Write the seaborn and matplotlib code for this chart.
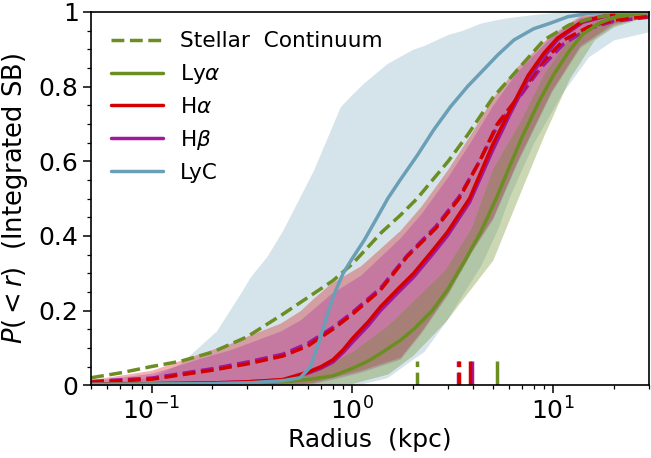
import matplotlib
matplotlib.use("Agg")
import matplotlib.pyplot as plt
import seaborn as sns
from matplotlib.ticker import FuncFormatter, MultipleLocator

sns.set_style("ticks")
plt.rcParams["font.family"] = ["DejaVu Sans"]
plt.rcParams["mathtext.fontset"] = "dejavusans"
for k in ["text.color", "axes.labelcolor", "xtick.color", "ytick.color", "axes.edgecolor"]:
    plt.rcParams[k] = "black"

GREEN = "#6b8e23"
RED = "#d40000"
PURPLE = "#a0189e"
BLUE = "#6a9fb5"

# --- curves (radius in kpc, cumulative fraction)
r_sc = [0.05, 0.07, 0.1, 0.139, 0.2, 0.3, 0.45, 0.6, 0.8, 1.0, 1.4, 1.73, 2.1,
        3.0, 3.74, 5.0, 6.64, 9.0, 12, 16, 22, 30]
p_sc = [0.02, 0.033, 0.05, 0.064, 0.088, 0.13, 0.19, 0.235, 0.28, 0.325, 0.41,
        0.455, 0.50, 0.60, 0.67, 0.77, 0.845, 0.925, 0.965, 0.985, 0.995, 1.0]

r_lya = [0.05, 0.1, 0.2, 0.3, 0.45, 0.6, 0.8, 1.0, 1.2, 1.38, 1.73, 2.02, 2.5,
         2.97, 3.6, 4.35, 5.2, 6.0, 7.0, 8.5, 10, 12, 14, 17, 20, 30]
p_lya = [0.002, 0.003, 0.004, 0.006, 0.009, 0.015, 0.025, 0.045, 0.065, 0.085,
         0.12, 0.15, 0.20, 0.255, 0.33, 0.41, 0.50, 0.58, 0.665, 0.76, 0.83,
         0.895, 0.94, 0.97, 0.985, 1.0]

r_h = [0.05, 0.1, 0.2, 0.3, 0.45, 0.6, 0.7, 0.8, 0.9, 1.0, 1.2, 1.38, 1.7, 2.02,
       2.5, 2.97, 3.83, 5.0, 6.14, 7.5, 9.0, 10.5, 14, 20, 30]
p_ha = [0.003, 0.004, 0.006, 0.009, 0.015, 0.035, 0.05, 0.068, 0.095, 0.125,
        0.17, 0.21, 0.26, 0.30, 0.36, 0.41, 0.50, 0.645, 0.74, 0.83, 0.89,
        0.93, 0.975, 0.995, 1.0]
p_hb = [0.003, 0.004, 0.006, 0.009, 0.014, 0.032, 0.046, 0.062, 0.088, 0.115,
        0.16, 0.20, 0.25, 0.29, 0.35, 0.40, 0.49, 0.63, 0.73, 0.82, 0.88,
        0.925, 0.972, 0.994, 1.0]

r_hd = [0.05, 0.1, 0.2, 0.3, 0.45, 0.6, 0.8, 1.0, 1.38, 1.87, 2.6, 3.4, 4.3,
        5.27, 6.64, 8.67, 11.3, 15, 20, 30]
p_ha_d = [0.008, 0.016, 0.04, 0.057, 0.078, 0.105, 0.15, 0.19, 0.255, 0.344,
          0.42, 0.50, 0.60, 0.70, 0.77, 0.86, 0.925, 0.96, 0.978, 0.988]
p_hb_d = [0.01, 0.019, 0.044, 0.062, 0.083, 0.112, 0.155, 0.195, 0.26, 0.347,
          0.425, 0.505, 0.60, 0.695, 0.765, 0.85, 0.915, 0.955, 0.975, 0.986]

r_lyc = [0.05, 0.1, 0.2, 0.3, 0.45, 0.55, 0.62, 0.69, 0.75, 0.82, 0.9, 1.0,
         1.15, 1.33, 1.5, 1.73, 2.1, 2.54, 3.08, 3.74, 4.5, 5.3, 6.38, 8.0, 9.7,
         11.8, 15, 20, 30]
p_lyc = [0.002, 0.003, 0.004, 0.006, 0.012, 0.02, 0.05, 0.125, 0.19, 0.25, 0.30,
         0.34, 0.39, 0.45, 0.50, 0.55, 0.615, 0.684, 0.746, 0.80, 0.845, 0.885,
         0.925, 0.955, 0.97, 0.987, 0.996, 1.0, 1.0]

# --- scatter bands
r_lyc_band = [0.05, 0.07, 0.1, 0.139, 0.21, 0.28, 0.31, 0.375, 0.45, 0.64, 0.87,
              1.0, 1.14, 1.49, 2.0, 2.27, 3.0, 3.5, 4.35, 5.3, 6.0, 8.0, 11, 15, 20, 30]
lyc_hi = [0.008, 0.012, 0.022, 0.058, 0.145, 0.25, 0.29, 0.345, 0.415, 0.576,
          0.746, 0.78, 0.81, 0.862, 0.9, 0.91, 0.94, 0.95, 0.97, 0.98, 0.985,
          0.993, 1.0, 1.0, 1.0, 1.0]
lyc_lo = [0.0, 0.0, 0.0, 0.0, 0.0, 0.0, 0.0, 0.0, 0.0, 0.0, 0.0,
          0.0, 0.005, 0.02, 0.07, 0.09, 0.18, 0.24, 0.32, 0.42, 0.5,
          0.65, 0.78, 0.88, 0.925, 0.947]

r_lya_band = [0.05, 0.3, 0.5, 0.78, 1.0, 1.5, 2.0, 2.9, 3.9, 5.0, 6.9, 9.0, 12,
              16, 20, 30]
lya_hi = [0.002, 0.006, 0.015, 0.06, 0.09, 0.16, 0.225, 0.31, 0.42, 0.58, 0.71,
          0.835, 0.93, 0.975, 0.99, 1.0]
lya_lo = [0.0, 0.0, 0.0, 0.002, 0.005, 0.03, 0.08, 0.17, 0.26, 0.335, 0.52,
          0.67, 0.82, 0.925, 0.96, 0.99]

r_h_band = [0.05, 0.1, 0.139, 0.174, 0.246, 0.31, 0.437, 0.55, 0.64, 0.78, 1.1,
            1.73, 2.2, 3.0, 3.9, 5.0, 6.6, 9.8, 13.6, 20, 30]
ha_hi = [0.015, 0.04, 0.067, 0.085, 0.112, 0.135, 0.166, 0.20, 0.233, 0.273,
         0.32, 0.415, 0.48, 0.58, 0.675, 0.77, 0.853, 0.94, 0.99, 1.0, 1.0]
ha_lo = [0.0, 0.0, 0.0, 0.0, 0.0, 0.001, 0.002, 0.003, 0.008, 0.02, 0.04,
         0.075, 0.145, 0.25, 0.36, 0.45, 0.60, 0.79, 0.91, 0.97, 0.99]
hb_hi = [0.012, 0.032, 0.055, 0.072, 0.095, 0.115, 0.145, 0.175, 0.205, 0.245,
         0.295, 0.395, 0.46, 0.56, 0.655, 0.75, 0.84, 0.935, 0.985, 1.0, 1.0]
hb_lo = [0.0, 0.0, 0.0, 0.0, 0.0, 0.0, 0.001, 0.002, 0.005, 0.015, 0.035,
         0.07, 0.14, 0.245, 0.355, 0.445, 0.595, 0.785, 0.905, 0.965, 0.99]

# half-light radii markers
r50_sc, r50_lya = 2.10, 5.27
r50_ha, r50_hb = 3.83, 3.94
r50_ha_d, r50_hb_d = 3.40, 3.34

fig = plt.figure(figsize=(6.51, 4.58), dpi=100)
ax = fig.add_axes([0.14, 0.159, 0.857, 0.815])

ax.fill_between(r_lyc_band, lyc_lo, lyc_hi, color=BLUE, alpha=0.28, lw=0)
ax.fill_between(r_h_band, ha_lo, ha_hi, color=RED, alpha=0.3, lw=0)
ax.fill_between(r_h_band, hb_lo, hb_hi, color=PURPLE, alpha=0.28, lw=0)
ax.fill_between(r_lya_band, lya_lo, lya_hi, color=GREEN, alpha=0.34, lw=0)

LW = 2.5
sns.lineplot(x=r_hd, y=p_hb_d, ax=ax, color=PURPLE, lw=LW, ls="--")
sns.lineplot(x=r_hd, y=p_ha_d, ax=ax, color=RED, lw=LW, ls="--")
sns.lineplot(x=r_h, y=p_hb, ax=ax, color=PURPLE, lw=LW, label=r"H$\beta$")
sns.lineplot(x=r_h, y=p_ha, ax=ax, color=RED, lw=LW, label=r"H$\alpha$")
sns.lineplot(x=r_lya, y=p_lya, ax=ax, color=GREEN, lw=LW, label=r"Ly$\alpha$")
sns.lineplot(x=r_sc, y=p_sc, ax=ax, color=GREEN, lw=LW, ls="--",
             label="Stellar  Continuum")
sns.lineplot(x=r_lyc, y=p_lyc, ax=ax, color=BLUE, lw=LW, label="LyC")

# half-light radius ticks along the bottom
mk = 0.065
ax.vlines([r50_sc], 0, mk, color=GREEN, lw=LW, ls="--")
ax.vlines([r50_hb_d], 0, mk, color=PURPLE, lw=LW, ls="--")
ax.vlines([r50_ha_d], 0, mk, color=RED, lw=LW, ls="--")
ax.vlines([r50_hb], 0, mk, color=PURPLE, lw=LW)
ax.vlines([r50_ha], 0, mk, color=RED, lw=LW)
ax.vlines([r50_lya], 0, mk, color=GREEN, lw=LW)

ax.set_xscale("log")
ax.set_xlim(0.05, 30)
ax.set_ylim(0, 1)
ax.yaxis.set_major_locator(MultipleLocator(0.2))
ax.yaxis.set_minor_locator(MultipleLocator(0.05))
ax.yaxis.set_major_formatter(FuncFormatter(lambda v, _: f"{v:g}"))
ax.tick_params(which="major", labelsize=18, length=5.5, width=1.1, direction="out")
ax.tick_params(which="minor", length=3, width=0.9, direction="out")
for s in ax.spines.values():
    s.set_linewidth(1.2)

ax.set_xlabel("Radius  (kpc)", fontsize=18, labelpad=2)
ax.set_ylabel(r"$P(<r)$  (Integrated SB)", fontsize=18.5, labelpad=6)

h, l = ax.get_legend_handles_labels()
order = ["Stellar  Continuum", r"Ly$\alpha$", r"H$\alpha$", r"H$\beta$", "LyC"]
hd = dict(zip(l, h))
ax.legend([hd[k] for k in order], order, loc="upper left", frameon=False,
          fontsize=15.6, handlelength=2.4, labelspacing=0.5,
          bbox_to_anchor=(0.0, 1.0))

fig.savefig("out.png", dpi=100)
